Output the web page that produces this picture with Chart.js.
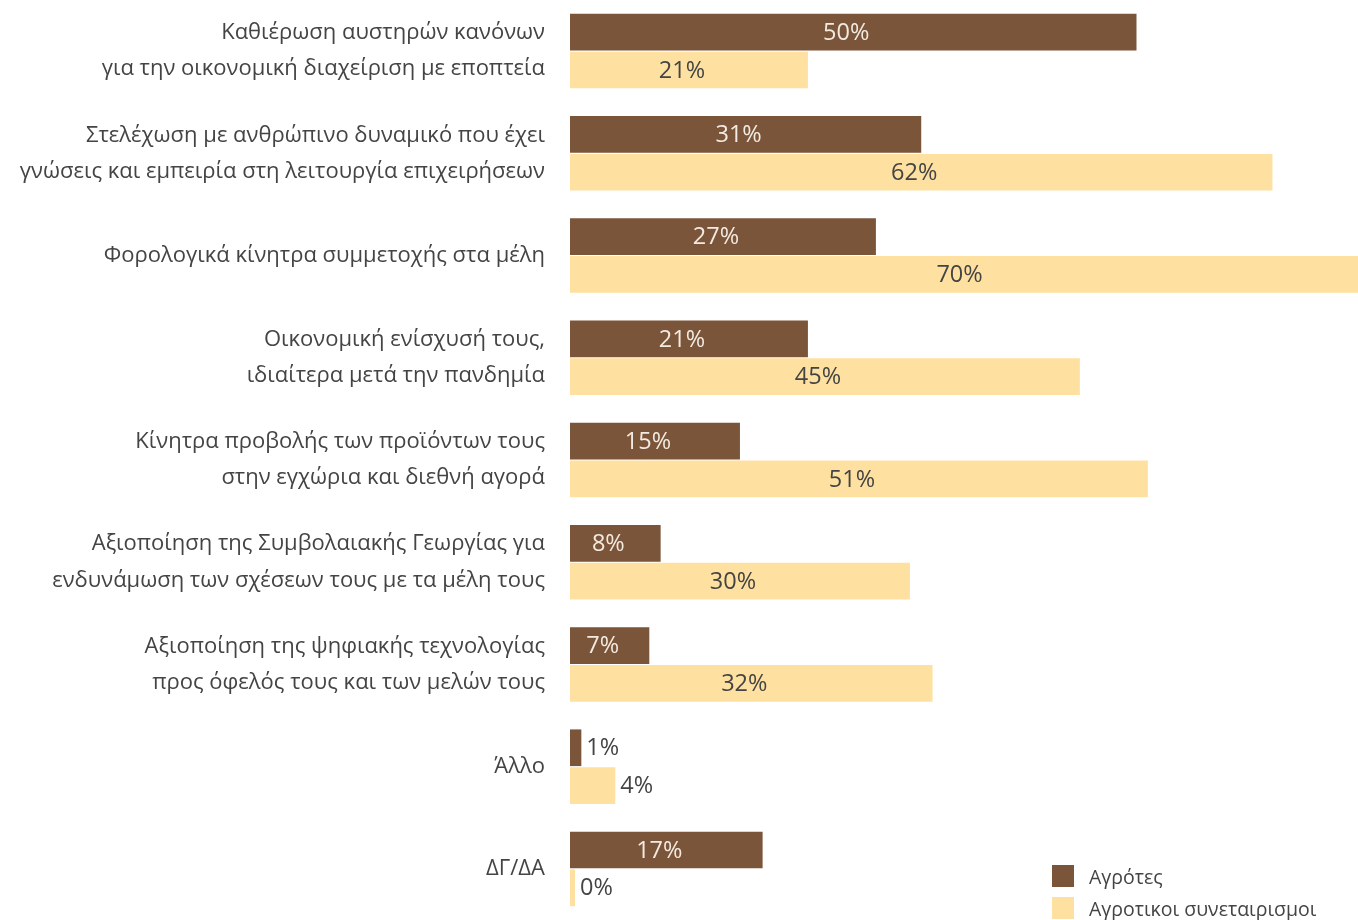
<!DOCTYPE html>
<html>
<head>
<meta charset="utf-8">
<script src="https://cdn.jsdelivr.net/npm/chart.js@4/dist/chart.umd.min.js"></script>
<style>
  body { margin: 0; background: #fff; font-family: 'Open Sans', sans-serif; }
  #wrap { position: relative; width: 1358px; height: 920px; }
  #legend { position: absolute; left: 1052px; top: 860px; color: #444; font-size: 19.5px; }
  .item { display: flex; align-items: center; height: 32px; }
  .box { width: 22px; height: 22px; margin-right: 15px; }
</style>
</head>
<body>
<div id="wrap">
  <canvas id="chart" width="1358" height="920"></canvas>
  <div id="legend"></div>
</div>
<script>
const categories = [
  ['Καθιέρωση αυστηρών κανόνων', 'για την οικονομική διαχείριση με εποπτεία'],
  ['Στελέχωση με ανθρώπινο δυναμικό που έχει', 'γνώσεις και εμπειρία στη λειτουργία επιχειρήσεων'],
  'Φορολογικά κίνητρα συμμετοχής στα μέλη',
  ['Οικονομική ενίσχυσή τους,', 'ιδιαίτερα μετά την πανδημία'],
  ['Κίνητρα προβολής των προϊόντων τους', 'στην εγχώρια και διεθνή αγορά'],
  ['Αξιοποίηση της Συμβολαιακής Γεωργίας για', 'ενδυνάμωση των σχέσεων τους με τα μέλη τους'],
  ['Αξιοποίηση της ψηφιακής τεχνολογίας', 'προς όφελός τους και των μελών τους'],
  'Άλλο',
  'ΔΓ/ΔΑ'
];
const farmers = [50, 31, 27, 21, 15, 8, 7, 1, 17];
const coops = [21, 62, 70, 45, 51, 30, 32, 4, 0];

const BROWN = '#7B5539';
const YELLOW = '#FEE1A1';
const TEXT = '#444444';

// Ετικέτες τιμών μέσα ή δίπλα στις μπάρες
const valueLabels = {
  id: 'valueLabels',
  afterDatasetsDraw(chart) {
    const ctx = chart.ctx;
    ctx.save();
    ctx.font = '23.5px "Open Sans", sans-serif';
    ctx.textBaseline = 'middle';
    chart.data.datasets.forEach((ds, di) => {
      chart.getDatasetMeta(di).data.forEach((bar, i) => {
        const txt = ds.data[i] + '%';
        const w = ctx.measureText(txt).width;
        const barW = bar.x - bar.base;
        if (barW < w + 16) {
          ctx.fillStyle = TEXT;
          ctx.textAlign = 'left';
          ctx.fillText(txt, bar.x + 5, bar.y + 1);
        } else {
          ctx.fillStyle = di === 0 ? '#F3EAE1' : TEXT;
          ctx.textAlign = 'center';
          ctx.fillText(txt, bar.base + barW / 2 - 7, bar.y + 1);
        }
      });
    });
    ctx.restore();
  }
};

const chart = new Chart(document.getElementById('chart').getContext('2d'), {
  type: 'bar',
  data: {
    labels: categories,
    datasets: [{
      label: 'Αγρότες',
      data: farmers,
      backgroundColor: BROWN,
      barPercentage: 0.97,
      categoryPercentage: 0.74
    }, {
      label: 'Αγροτικοι συνεταιρισμοι',
      data: coops,
      backgroundColor: YELLOW,
      barPercentage: 0.97,
      categoryPercentage: 0.74,
      minBarLength: 5
    }]
  },
  options: {
    indexAxis: 'y',
    responsive: false,
    animation: false,
    layout: { padding: 0 },
    plugins: {
      legend: { display: false },
      tooltip: { enabled: false }
    },
    scales: {
      x: {
        display: false,
        min: 0,
        max: 69.55
      },
      y: {
        grid: { display: false, drawTicks: false },
        border: { display: false },
        afterFit(scale) {
          scale.width = 570;
          scale.paddingTop = 0;
          scale.paddingBottom = 0;
        },
        ticks: {
          padding: 25,
          color: TEXT,
          font: { family: '"Open Sans", sans-serif', size: 22, lineHeight: 1.64 }
        }
      }
    }
  },
  plugins: [valueLabels]
});

// Υπόμνημα
const legend = document.getElementById('legend');
chart.data.datasets.forEach(ds => {
  const item = document.createElement('div');
  item.className = 'item';
  item.innerHTML = '<span class="box" style="background:' + ds.backgroundColor + '"></span><span>' + ds.label + '</span>';
  legend.appendChild(item);
});
</script>
</body>
</html>
